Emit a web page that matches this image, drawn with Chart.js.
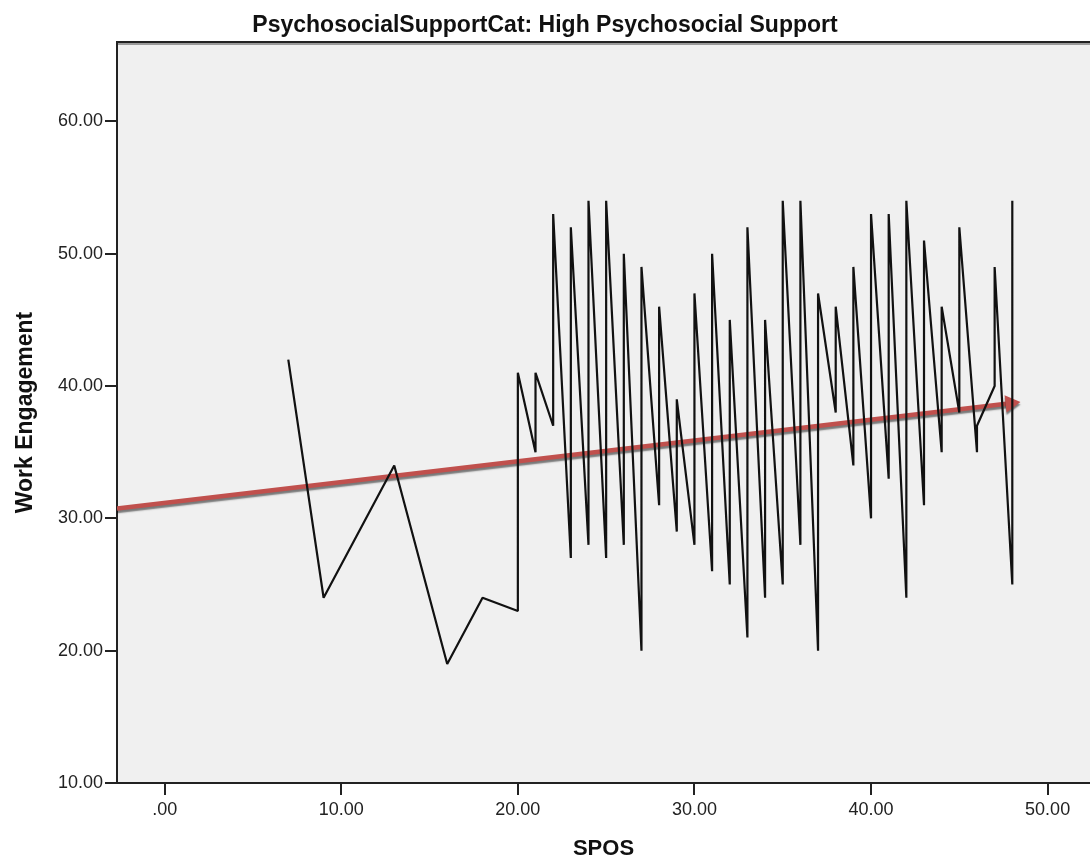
<!DOCTYPE html>
<html>
<head>
<meta charset="utf-8">
<script src="https://cdn.jsdelivr.net/npm/chart.js@4.4.1/dist/chart.umd.min.js"></script>
<style>
  body { margin: 0; background: #fff; }
  #wrap { width: 1090px; height: 862px; }
</style>
</head>
<body>
<div id="wrap"><canvas id="myCanvas"></canvas></div>
<script>
'use strict';

// data

const spos = [7, 9, 13, 16, 18, 20, 20, 21, 21, 22, 22, 23, 23, 24, 24, 25, 25, 26, 26,
  27, 27, 28, 28, 29, 29, 30, 30, 31, 31, 32, 32, 33, 33, 34, 34, 35, 35, 36, 36,
  37, 37, 38, 38, 39, 39, 40, 40, 41, 41, 42, 42, 43, 43, 44, 44, 45, 45, 46, 46,
  47, 47, 48, 48];
const engagement = [42, 24, 34, 19, 24, 23, 41, 35, 41, 37, 53, 27, 52, 28, 54, 27, 54, 28, 50,
  20, 49, 31, 46, 29, 39, 28, 47, 26, 50, 25, 45, 21, 52, 24, 45, 25, 54, 28, 54,
  20, 47, 38, 46, 34, 49, 30, 53, 33, 53, 24, 54, 31, 51, 35, 46, 38, 52, 35, 37,
  40, 49, 25, 54];

// fit line, start and arrow end
const fitX = [-2.7, 47.9];
const fitY = [30.75, 38.7];

const xTicks = [0, 10, 20, 30, 40, 50];
const yTicks = [10, 20, 30, 40, 50, 60];

const titleText = 'PsychosocialSupportCat: High Psychosocial Support';
const xTitle = 'SPOS';
const yTitle = 'Work Engagement';

// helpers

function toPoints(xs, ys) {
  let pts = [];
  for (let i = 0; i < xs.length; i++) {
    pts.push({ x: xs[i], y: ys[i] });
  }
  return pts;
}

function tickLabel(v) {
  // SPSS style: .00 for zero
  return v === 0 ? '.00' : v.toFixed(2);
}

const panelPlugin = {
  id: 'panel',
  beforeDraw(chart) {
    const ctx = chart.ctx;
    const a = chart.chartArea;
    ctx.save();
    ctx.fillStyle = '#f0f0f0';
    ctx.fillRect(a.left, a.top, a.right - a.left, a.bottom - a.top);
    // top frame line with soft shadow
    ctx.strokeStyle = '#9a9a9a';
    ctx.lineWidth = 2;
    ctx.beginPath();
    ctx.moveTo(a.left, a.top + 2);
    ctx.lineTo(a.right, a.top + 2);
    ctx.stroke();
    ctx.strokeStyle = '#222';
    ctx.lineWidth = 2;
    ctx.beginPath();
    ctx.moveTo(a.left, a.top);
    ctx.lineTo(a.right, a.top);
    ctx.stroke();
    ctx.restore();
  },
  beforeDatasetDraw(chart, args) {
    if (args.index === 1) {
      const ctx = chart.ctx;
      ctx.save();
      ctx.shadowColor = 'rgba(0, 0, 0, 0.5)';
      ctx.shadowOffsetY = 2.5;
      ctx.shadowBlur = 1.5;
    }
  },
  afterDatasetDraw(chart, args) {
    if (args.index === 1) {
      chart.ctx.restore();
    }
  }
};

const data = {
  datasets: [{
    label: 'Work Engagement',
    data: toPoints(spos, engagement),
    showLine: true,
    borderColor: '#111',
    borderWidth: 2.2,
    borderJoinStyle: 'bevel',
    pointRadius: 0,
    tension: 0
  },
  {
    label: 'Fit',
    data: toPoints(fitX, fitY),
    showLine: true,
    borderColor: '#c0504d',
    backgroundColor: '#c0504d',
    borderWidth: 4.5,
    pointStyle: 'triangle',
    pointRadius: [0, 10],
    pointRotation: [0, 83],
    pointBorderWidth: 0,
    tension: 0
  }]
};

const config = {
  type: 'scatter',
  data: data,
  plugins: [panelPlugin],
  options: {
    responsive: true,
    maintainAspectRatio: false,
    animation: false,
    layout: { padding: 0, autoPadding: false },
    plugins: {
      legend: { display: false },
      tooltip: { enabled: false },
      title: {
        display: true,
        text: titleText,
        color: '#111',
        font: { family: 'Liberation Sans, Arial, sans-serif', size: 23, weight: 'bold' },
        padding: { top: 12, bottom: 2.4 }
      }
    },
    scales: {
      x: {
        type: 'linear',
        min: -2.7,
        max: 52.4,
        afterFit(scale) { scale.height = 79; },
        afterBuildTicks(scale) { scale.ticks = xTicks.map(v => ({ value: v })); },
        border: { display: true, color: '#222', width: 2 },
        grid: { drawOnChartArea: false, drawTicks: true, tickLength: 12, color: '#222', lineWidth: 2 },
        ticks: {
          callback: tickLabel,
          color: '#222',
          padding: 4,
          maxRotation: 0,
          font: { family: 'Liberation Sans, Arial, sans-serif', size: 18 }
        },
        title: {
          display: true,
          text: xTitle,
          color: '#111',
          padding: { top: 0, bottom: 0 },
          font: { family: 'Liberation Sans, Arial, sans-serif', size: 22, weight: 'bold' }
        }
      },
      y: {
        type: 'linear',
        min: 10,
        max: 66,
        afterFit(scale) { scale.width = 117; },
        afterBuildTicks(scale) { scale.ticks = yTicks.map(v => ({ value: v })); },
        border: { display: true, color: '#222', width: 2 },
        grid: { drawOnChartArea: false, drawTicks: true, tickLength: 12, color: '#222', lineWidth: 2 },
        ticks: {
          callback: tickLabel,
          color: '#222',
          padding: 2,
          font: { family: 'Liberation Sans, Arial, sans-serif', size: 18 }
        },
        title: {
          display: true,
          text: yTitle,
          color: '#111',
          padding: { top: 12, bottom: 0 },
          font: { family: 'Liberation Sans, Arial, sans-serif', size: 23, weight: 'bold' }
        }
      }
    }
  }
};

const chart = document.getElementById('myCanvas');
const myChart = new Chart(chart, config);
</script>
</body>
</html>
